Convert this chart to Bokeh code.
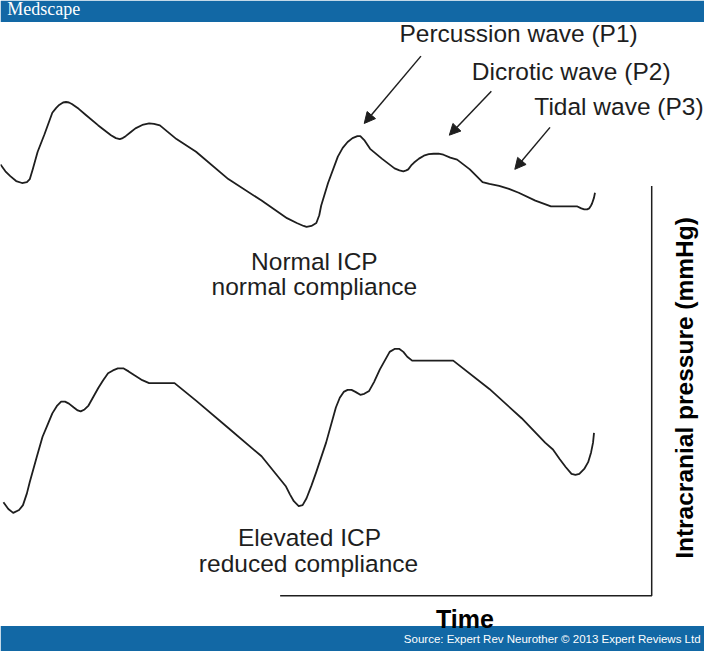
from bokeh.plotting import figure
from bokeh.models import Range1d, Label, Arrow, NormalHead, BoxAnnotation
from bokeh.embed import file_html
from bokeh.resources import INLINE

# ---- data (traced waveforms; x = time, y = pressure, picture units, y grows downward) ----
normal_x = [0, 5, 10, 16, 22, 27, 30, 33, 38, 45, 53, 57, 60, 64, 67, 70, 73, 80, 87, 100,
            113, 118, 122, 125, 128, 133, 138, 145, 152, 157, 163, 180, 200, 233, 267, 293,
            303, 310, 313, 318, 323, 326, 328, 335, 345, 350, 355, 360, 365, 368, 372, 378,
            390, 403, 408, 412, 415, 417, 420, 423, 428, 433, 438, 443, 448, 453, 460, 467,
            480, 493, 500, 510, 520, 530, 547, 563, 590, 594, 597, 600, 602, 604, 605, 607, 608]
normal_y = [168, 175, 180, 185, 187, 186, 183, 173, 155, 137, 115, 110, 107, 104.5, 104, 104.5, 106, 111, 117, 128,
            138, 141, 142, 141, 139, 135, 131, 127.5, 126, 126.5, 128, 142, 155, 183, 205, 223,
            228, 231, 232, 231, 228, 220, 210, 187, 160, 151, 145, 141, 139, 139, 143, 152,
            162, 172, 174, 175, 174, 173, 169, 166, 162, 159, 157.5, 157, 157, 158, 161, 163,
            173, 186, 188, 190, 193, 197, 205, 211, 211, 213, 214, 214, 213, 210, 208, 202, 197]

elev_x = [3, 8, 13, 19, 23, 27, 30, 37, 43, 48, 53, 58, 62, 66, 70, 75, 79, 82, 86, 90,
          95, 100, 105, 110, 115, 120, 126, 131, 137, 145, 152, 178, 200, 233, 267, 292,
          296, 300, 305, 309, 313, 318, 323, 333, 343, 347, 351, 355, 359, 363, 368, 372,
          377, 382, 388, 393, 398, 403, 408, 412, 416, 421, 463, 500, 533, 557, 565, 572,
          578, 584, 588, 592, 597, 601, 604, 606, 607]
elev_y = [514, 521, 525, 522, 517, 505, 493, 468, 447, 435, 423, 415, 411, 411, 413, 417, 420, 421, 419, 415,
          406, 397, 389, 382, 379, 377, 377, 380, 384, 389, 392, 392, 410, 438, 467, 498,
          506, 513, 518, 517, 510, 497, 483, 453, 417, 407, 401, 399, 399, 401, 404, 403,
          400, 391, 378, 369, 360, 357, 357, 360, 365, 369, 369, 398, 428, 453, 460, 470,
          478, 485, 486, 485, 480, 473, 463, 453, 443]

wave_labels = ["Percussion wave (P1)", "Dicrotic wave (P2)", "Tidal wave (P3)"]
arrow_from_x = [430, 502, 562]
arrow_from_y = [57, 93, 130]
arrow_to_x = [372, 459, 526]
arrow_to_y = [126, 138, 173]

axis_x = [286, 666, 666]
axis_y = [610, 610, 190]

FONT = "Liberation Sans"
SIZE = "24.5px"
INK = "#1e1e1e"
BANNER = "#1268a5"

p = figure(width=704, height=651, x_range=Range1d(0, 720), y_range=Range1d(667, 0),
           output_backend="svg", toolbar_location=None, x_axis_type=None, y_axis_type=None,
           min_border=0, background_fill_color="white", border_fill_color="white")
p.outline_line_color = None
p.xgrid.visible = False
p.ygrid.visible = False

# banners
p.add_layout(BoxAnnotation(left=0, right=720, top=0, bottom=22, fill_color=BANNER,
                           fill_alpha=1, line_color=None))
p.add_layout(BoxAnnotation(left=0, right=720, top=641, bottom=667, fill_color=BANNER,
                           fill_alpha=1, line_color=None))
p.add_layout(Label(x=7, y=9, text="Medscape", text_font="Liberation Serif", text_font_size="18px",
                   text_color="white", text_baseline="alphabetic"))
p.add_layout(Label(x=716, y=654, text="Source: Expert Rev Neurother \u00a9 2013 Expert Reviews Ltd",
                   text_font=FONT, text_font_size="11.5px", text_color="white",
                   text_align="right", text_baseline="alphabetic"))

# waveforms
p.line(normal_x, normal_y, line_color=INK, line_width=1.8, line_join="round")
p.line(elev_x, elev_y, line_color=INK, line_width=1.8, line_join="round")

# axis lines
p.line(axis_x, axis_y, line_color=INK, line_width=1.5)

# arrows and wave labels
label_y = [34, 72.5, 108.5]
label_x = [408, 482, 546]
for i in range(3):
    p.add_layout(Arrow(x_start=arrow_from_x[i], y_start=arrow_from_y[i],
                       x_end=arrow_to_x[i], y_end=arrow_to_y[i],
                       line_color=INK, line_width=1.5,
                       end=NormalHead(size=11, fill_color=INK, line_color=INK)))
    p.add_layout(Label(x=label_x[i], y=label_y[i], text=wave_labels[i], text_font=FONT,
                       text_font_size=SIZE, text_color=INK, text_baseline="alphabetic"))

# condition captions
for txt, x, y in [("Normal ICP", 321, 267), ("normal compliance", 321, 293),
                  ("Elevated ICP", 316, 550), ("reduced compliance", 315, 576.5)]:
    p.add_layout(Label(x=x, y=y, text=txt, text_font=FONT, text_font_size=SIZE,
                       text_color=INK, text_align="center", text_baseline="alphabetic"))

# axis titles
p.add_layout(Label(x=475, y=633.5, text="Time", text_font=FONT, text_font_size="25px",
                   text_font_style="bold", text_color="black", text_align="center",
                   text_baseline="alphabetic"))
p.add_layout(Label(x=700, y=397, text="Intracranial pressure (mmHg)", text_font=FONT,
                   text_font_size="24.5px", text_font_style="bold", text_color="black",
                   text_align="center", text_baseline="middle", angle=90, angle_units="deg"))

open("out.html", "w").write(file_html(p, INLINE))
